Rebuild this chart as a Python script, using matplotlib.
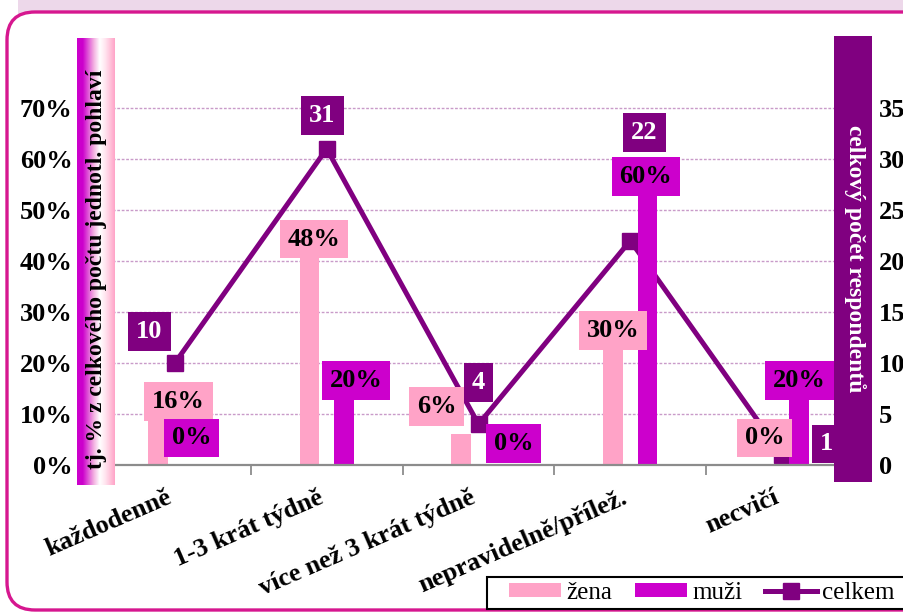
import numpy as np
import matplotlib
matplotlib.use('Agg')
import matplotlib.pyplot as plt
from matplotlib.patches import FancyBboxPatch, Rectangle, Patch
from matplotlib.lines import Line2D
from matplotlib.path import Path
from matplotlib.colors import LinearSegmentedColormap

# ---------------- data ----------------
categories = ['každodenně', '1-3 krát týdně', 'více než 3 krát týdně',
              'nepravidelně/přílež.', 'necvičí']
zena = [16, 48, 6, 30, 0]        # % of women
muzi = [0, 20, 0, 60, 20]        # % of men
celkem = [10, 31, 4, 22, 1]      # total respondents (right axis)
left_ticks = [0, 10, 20, 30, 40, 50, 60, 70]
right_ticks = [0, 5, 10, 15, 20, 25, 30, 35]
left_title = 'tj. % z celkového počtu jednotl. pohlaví'
right_title = 'celkový počet respondentů'
legend_labels = ['žena', 'muži', 'celkem']

# label placement (style): offsets from category centre (x) and value (y)
zena_lab = [(0.024, -3.5), (-0.084, -3.7), (-0.277, 5.5), (-0.114, -3.6), (-0.116, 5.3)]
muzi_lab = [(0.109, 5.3), (0.193, -3.5), (0.23, 4.2), (0.103, -3.5), (0.115, -3.5)]
celk_lab = [(-0.167, 3.1), (-0.028, 3.3), (0.0, 4.1), (0.094, 10.6), (0.29, 1.06)]

PINK = '#FFA3C7'
MAGENTA = '#CC00CC'
PURPLE = '#800080'
FS = 19

plt.rcParams['font.family'] = ['Liberation Serif', 'DejaVu Serif']

W, H = 904, 613
fig = plt.figure(figsize=(W / 100, H / 100), dpi=100)


def fx(px):
    return px / W


def fy(py):
    return 1 - py / H


def rect(l, t, r, b):
    return [fx(l), fy(b), (r - l) / W, (b - t) / H]


def labelbox(x0, y0, width, height, mutation_size):
    px = 0.3 * mutation_size
    py = 0.3 * mutation_size
    x0 -= px; y0 -= py
    x1 = x0 + width + 2 * px
    y1 = y0 + height + 2 * py
    return Path([(x0, y0), (x1, y0), (x1, y1), (x0, y1), (x0, y0)], closed=True)


# ---------------- background / frame ----------------
bg = fig.add_axes([0, 0, 1, 1], zorder=-5)
bg.set_xlim(0, W)
bg.set_ylim(H, 0)
bg.axis('off')
bg.add_patch(Rectangle((18, 0), W, 17, color='#EDD8EA', lw=0))
bg.add_patch(FancyBboxPatch((7, 12), 960, 598,
                            boxstyle='round,pad=0,rounding_size=28',
                            fc='white', ec='#D6178F', lw=2.4))

# ---------------- main axes ----------------
L, T, R, B = 99, 57, 858, 465
ax = fig.add_axes(rect(L, T, R, B))
ax2 = ax.twinx()
ax.set_zorder(2)
ax2.set_zorder(1)
ax.patch.set_visible(False)
ax2.patch.set_visible(False)

x = np.arange(len(categories))
bw = 0.13
off = 0.113

ax.bar(x - off, zena, bw, color=PINK, zorder=2)
ax.bar(x + off, muzi, bw, color=MAGENTA, zorder=2)
ax2.plot(x, celkem, color=PURPLE, lw=3.6, marker='s', ms=11, zorder=3)

ax.set_xlim(-0.5, len(categories) - 0.5)
ax.set_ylim(0, 80)
ax2.set_ylim(0, 40)

ax.set_yticks(left_ticks)
ax.set_yticklabels([f'{v}%' for v in left_ticks], fontsize=FS, fontweight='bold')
ax2.set_yticks(right_ticks)
ax2.set_yticklabels([str(v) for v in right_ticks], fontsize=FS, fontweight='bold')
ax.tick_params(axis='y', length=0, pad=19)
ax2.tick_params(axis='y', length=0, pad=15)

ax2.yaxis.grid(True, color='#C99BC9', linestyle=(0, (2, 1.2)), lw=1.0)
ax2.set_axisbelow(True)

ax.set_xticks(x)
ax.set_xticklabels(categories, rotation=23.5, ha='right', va='top',
                   fontsize=19, fontweight='bold')
ax.set_xticks(x[:-1] + 0.5, minor=True)
ax.tick_params(axis='x', which='major', length=0, pad=15)
ax.tick_params(axis='x', which='minor', length=7, width=1.3, color='#8C8C8C')

for a in (ax, ax2):
    for s in ('top', 'left', 'right', 'bottom'):
        a.spines[s].set_visible(False)
ax.spines['bottom'].set_visible(True)
ax.spines['bottom'].set_color('#8C8C8C')
ax.spines['bottom'].set_linewidth(1.6)

# data labels
for i, v in enumerate(zena):
    dx, dy = zena_lab[i]
    ax.text(i + dx, v + dy, f'{v}%', ha='center', va='center', fontsize=FS,
            fontweight='bold', color='black', zorder=5, clip_on=False,
            bbox=dict(boxstyle=labelbox, fc=PINK, ec='none'))
for i, v in enumerate(muzi):
    dx, dy = muzi_lab[i]
    ax.text(i + dx, v + dy, f'{v}%', ha='center', va='center', fontsize=FS,
            fontweight='bold', color='black', zorder=5, clip_on=False,
            bbox=dict(boxstyle=labelbox, fc=MAGENTA, ec='none'))
for i, v in enumerate(celkem):
    dx, dy = celk_lab[i]
    ax2.text(i + dx, v + dy, str(v), ha='center', va='center', fontsize=FS,
             fontweight='bold', color='white', zorder=5, clip_on=False,
             bbox=dict(boxstyle=labelbox, fc=PURPLE, ec='none'))

# ---------------- title bands ----------------
cmap = LinearSegmentedColormap.from_list('band', [
    (0.0, '#CC00CC'), (0.15, '#CC00CC'), (0.45, '#F4B4E2'),
    (0.6, '#FFFFFF'), (0.75, '#FFE4EF'), (1.0, '#FFA3C7')])
lb = fig.add_axes(rect(77, 38, 115, 485), zorder=10)
lb.imshow(np.linspace(0, 1, 256)[None, :], cmap=cmap, aspect='auto',
          extent=(0, 1, 0, 1))
lb.set_xlim(0, 1)
lb.set_ylim(0, 1)
lb.axis('off')
fig.text(fx(97), fy(269), left_title, rotation=90, ha='center', va='center',
         fontsize=17, fontweight='bold', color='black', zorder=11)

rb = fig.add_axes(rect(834, 36, 872, 482), zorder=10)
rb.set_facecolor(PURPLE)
rb.set_xticks([])
rb.set_yticks([])
for s in rb.spines.values():
    s.set_visible(False)
fig.text(fx(855), fy(259), right_title, rotation=270, ha='center', va='center',
         fontsize=17, fontweight='bold', color='white', zorder=11)

# ---------------- legend ----------------
bg.add_patch(Rectangle((487, 577), 430, 32, fc='white', ec='black', lw=1.5,
                       zorder=5))
handles = [Patch(fc=PINK, ec='none'), Patch(fc=MAGENTA, ec='none'),
           Line2D([], [], color=PURPLE, lw=3.6, marker='s', ms=11)]
leg = fig.legend(handles, legend_labels, ncol=3, loc='center left',
                 bbox_to_anchor=(fx(505), fy(593)), frameon=False,
                 prop={'family': ['Liberation Serif'], 'size': 18},
                 handlelength=2.1, handleheight=0.5, handletextpad=0.2,
                 columnspacing=0.9, borderpad=0.15, borderaxespad=0)
leg.set_zorder(20)

fig.savefig('out.png', dpi=100)
